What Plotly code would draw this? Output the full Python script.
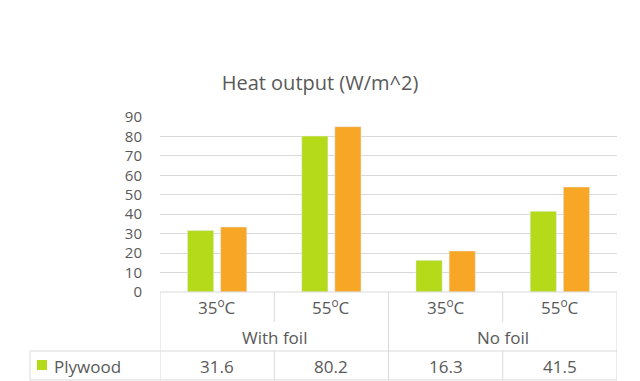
import plotly.graph_objects as go

# ---- data ----
categories = ["35<sup>o</sup>C", "55<sup>o</sup>C", "35<sup>o</sup>C", "55<sup>o</sup>C"]
groups = ["With foil", "No foil"]
plywood = [31.6, 80.2, 16.3, 41.5]
series2 = [33.4, 85.0, 21.1, 54.0]
series_names = ["Plywood", "Series 2"]
y_ticks = [0, 10, 20, 30, 40, 50, 60, 70, 80, 90]

GREEN = "#B4DA1A"
ORANGE = "#F7A626"
TEXT = "#595959"
GRID = "#D9D9D9"
FONT = "Open Sans"

W, H = 640, 381
L, R, T, B = 160, 23, 117, 89
PW, PH = W - L - R, H - T - B


def py(p):  # pixel y -> paper y
    return (H - B - p) / PH


def px(p):  # pixel x -> paper x
    return (p - L) / PW


x_idx = list(range(len(categories)))

fig = go.Figure()
fig.add_trace(go.Bar(x=x_idx, y=plywood, name=series_names[0], marker_color=GREEN,
                     showlegend=False, hoverinfo="skip"))
fig.add_trace(go.Bar(x=x_idx, y=series2, name=series_names[1], marker_color=ORANGE,
                     showlegend=False, hoverinfo="skip"))

shapes = []
line = dict(color=GRID, width=1)
# horizontal table lines
for yy in [351, 380]:
    shapes.append(dict(type="line", xref="paper", yref="paper", x0=px(30), x1=1,
                       y0=py(yy), y1=py(yy), line=line, layer="above"))
shapes.append(dict(type="line", xref="paper", yref="paper", x0=0, x1=1,
                   y0=0, y1=0, line=line, layer="above"))
# outer/group verticals
n = len(categories)
for b in [-0.5, (n / 2) - 0.5, n - 0.5]:
    shapes.append(dict(type="line", xref="x", yref="paper", x0=b, x1=b,
                       y0=0, y1=py(380), line=line))
# inner verticals (split)
for b in [0.5, n - 1.5]:
    shapes.append(dict(type="line", xref="x", yref="paper", x0=b, x1=b,
                       y0=0, y1=py(322), line=line))
    shapes.append(dict(type="line", xref="x", yref="paper", x0=b, x1=b,
                       y0=py(351), y1=py(380), line=line))
# left edge of table row
shapes.append(dict(type="line", xref="paper", yref="paper", x0=px(30), x1=px(30),
                   y0=py(351), y1=py(380), line=line))
# legend key
shapes.append(dict(type="rect", xref="paper", yref="paper", x0=px(37), x1=px(47),
                   y0=py(370), y1=py(360), fillcolor=GREEN, line=dict(width=0)))

ann = []
fnt = dict(family=FONT, size=17, color=TEXT)
for i, c in enumerate(categories):
    ann.append(dict(x=i, y=py(306), xref="x", yref="paper", text=c, showarrow=False,
                    font=fnt, xanchor="center", yanchor="middle"))
    ann.append(dict(x=i, y=py(366), xref="x", yref="paper", text=f"{plywood[i]:.1f}",
                    showarrow=False, font=fnt, xanchor="center", yanchor="middle"))
for gi, g in enumerate(groups):
    ann.append(dict(x=gi * 2 + 0.5, y=py(337), xref="x", yref="paper", text=g,
                    showarrow=False, font=fnt, xanchor="center", yanchor="middle"))
ann.append(dict(x=px(52), y=py(366), xref="paper", yref="paper", text=series_names[0],
                showarrow=False, font=fnt, xanchor="left", yanchor="middle"))

fig.update_layout(
    width=W, height=H,
    margin=dict(l=L, r=R, t=T, b=B),
    paper_bgcolor="white", plot_bgcolor="white",
    barmode="group", bargap=0.42, bargroupgap=0.21,
    title=dict(text="Heat output (W/m^2)", x=0.5, xanchor="center",
               y=1 - 83 / H, yanchor="middle", yref="container",
               font=dict(family=FONT, size=20, color=TEXT)),
    xaxis=dict(range=[-0.5, n - 0.5], showticklabels=False, showgrid=False,
               zeroline=False, showline=False, ticks="", fixedrange=True),
    yaxis=dict(range=[0, 90], tickvals=y_ticks, showgrid=True, gridcolor=GRID,
               gridwidth=1, zeroline=False, showline=False, ticks="",
               ticklabelstandoff=17, fixedrange=True,
               tickfont=dict(family=FONT, size=15, color=TEXT)),
    shapes=shapes, annotations=ann,
)

fig.write_html("out.html", config={"displayModeBar": False},
               post_script="document.body.style.margin='0';document.body.style.overflow='hidden';")
